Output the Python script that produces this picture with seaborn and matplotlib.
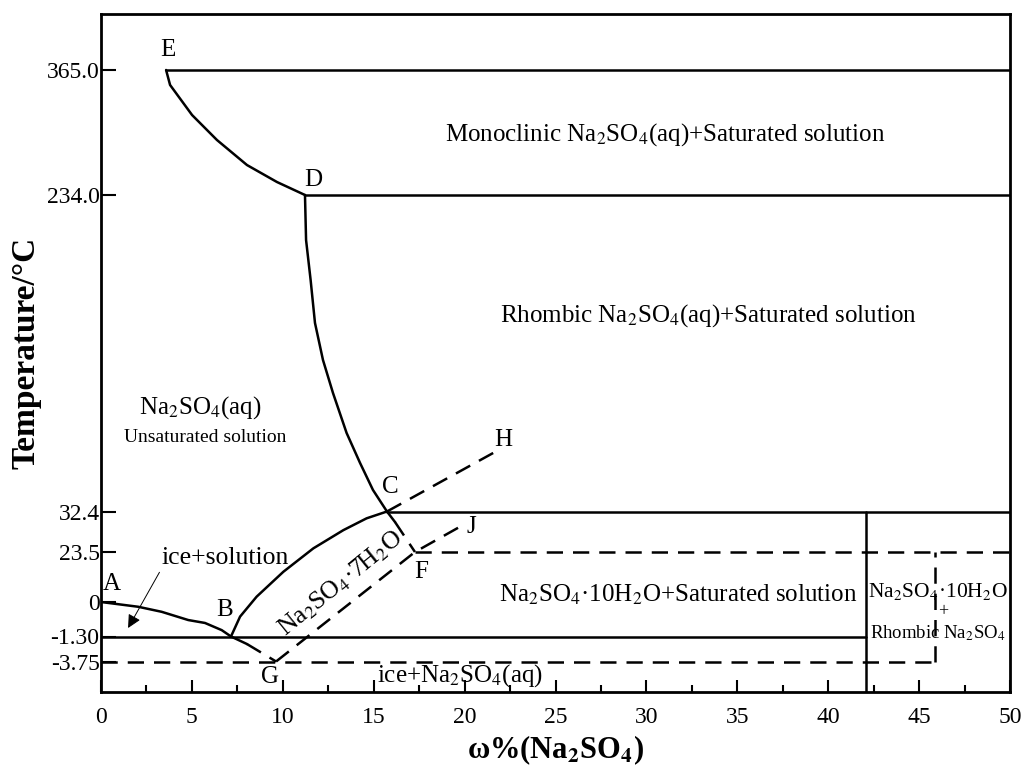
import numpy as np
import matplotlib
matplotlib.use('Agg')
import matplotlib.pyplot as plt
import seaborn as sns
from matplotlib.ticker import MultipleLocator, FixedLocator, NullLocator

# Na2SO4-H2O phase diagram (w% Na2SO4, T in C)
ed_x = [3.58, 3.80, 5.01, 6.38, 8.03, 9.68, 11.22]
ed_t = [365.0, 349.3, 317.8, 291.6, 265.4, 247.6, 234.0]

dc_x = [11.22, 11.28, 11.53, 11.77, 12.21, 12.76, 13.51, 14.25, 14.96, 15.73, 16.17]
dc_t = [234.0, 205.3, 179.9, 152.5, 128.9, 107.9, 82.4, 63.3, 46.1, 32.4, 30.1]

ab_x = [0.0, 2.05, 3.34, 4.80, 5.72, 6.64, 7.15, 8.03]
ab_t = [0.0, -0.18, -0.37, -0.68, -0.79, -1.06, -1.30, -2.04]

bc_x = [7.15, 7.65, 8.56, 10.03, 11.68, 13.33, 14.61, 15.73]
bc_t = [-1.30, -0.55, 2.5, 14.2, 24.3, 28.3, 30.9, 32.4]

# metastable (dashed) branches
bg_x = [8.03, 9.63]
bg_t = [-2.04, -3.75]
gfj_x = [9.63, 17.27, 19.9]
gfj_t = [-3.75, 23.5, 29.4]
cf_x = [16.17, 17.27]
cf_t = [30.1, 23.5]
ch_x = [15.73, 21.67]
ch_t = [32.4, 70.3]

# horizontal / vertical boundaries
solid_h = [(3.58, 50, 365.0), (11.22, 50, 234.0), (15.73, 50, 32.4), (0, 42.1, -1.30)]
dashed_h = [(17.27, 50, 23.5), (0, 45.9, -3.75)]
solid_v = [(42.1, -6.79, 32.4)]
dashed_v = [(45.9, -3.75, 23.5)]

y_ticks = [-3.75, -1.30, 0, 23.5, 32.4, 234.0, 365.0]
y_ticklabels = ['-3.75', '-1.30', '0', '23.5', '32.4', '234.0', '365.0']

# broken (piecewise) temperature axis
t_knots = np.array([-6.79, -3.75, -1.30, 0.0, 23.5, 32.4, 234.0, 365.0, 424.2])
p_knots = np.array([0.0, 30.5, 55.5, 90.0, 140.0, 180.5, 497.0, 622.0, 678.5])


def _interp(v, xs, ys):
    v = np.asarray(v, dtype=float)
    out = np.interp(v, xs, ys)
    lo = v < xs[0]
    hi = v > xs[-1]
    s0 = (ys[1] - ys[0]) / (xs[1] - xs[0])
    s1 = (ys[-1] - ys[-2]) / (xs[-1] - xs[-2])
    out = np.where(lo, ys[0] + (v - xs[0]) * s0, out)
    out = np.where(hi, ys[-1] + (v - xs[-1]) * s1, out)
    return out


def fwd(t):
    return _interp(t, t_knots, p_knots)


def inv(p):
    return _interp(p, p_knots, t_knots)


sns.set_style('ticks')
plt.rcParams['font.family'] = ['Liberation Serif', 'DejaVu Serif']
plt.rcParams['mathtext.fontset'] = 'stix'
for key in ['axes.edgecolor', 'text.color', 'axes.labelcolor',
            'xtick.color', 'ytick.color']:
    plt.rcParams[key] = 'black'

fig = plt.figure(figsize=(10.24, 7.72), dpi=100)
ax = fig.add_axes([101 / 1024, 1 - 692 / 772, 909 / 1024, 678.5 / 772])
ax.set_yscale('function', functions=(fwd, inv))

LW = 1.8
DASH = (0, (6.5, 4))


def curve(xs, ts, ls='-'):
    sns.lineplot(x=xs, y=ts, sort=False, estimator=None, color='black',
                 linewidth=LW, linestyle=ls, ax=ax)


curve(ed_x, ed_t)
curve(dc_x, dc_t)
curve(ab_x, ab_t)
curve(bc_x, bc_t)
curve(bg_x, bg_t, DASH)
curve(gfj_x, gfj_t, DASH)
curve(cf_x, cf_t, DASH)
curve(ch_x, ch_t, DASH)

for x0, x1, t in solid_h:
    curve([x0, x1], [t, t])
for x0, x1, t in dashed_h:
    curve([x0, x1], [t, t], DASH)
for x, t0, t1 in solid_v:
    curve([x, x], [t0, t1])
for x, t0, t1 in dashed_v:
    curve([x, x], [t0, t1], DASH)

ax.set_xlim(0, 50)
ax.set_ylim(-6.79, 424.2)

ax.xaxis.set_major_locator(MultipleLocator(5))
ax.xaxis.set_minor_locator(MultipleLocator(2.5))
ax.yaxis.set_major_locator(FixedLocator(y_ticks))
ax.yaxis.set_minor_locator(NullLocator())
ax.set_yticklabels(y_ticklabels)

ax.tick_params(axis='x', which='major', direction='in', length=9, width=1.5,
               labelsize=17, pad=11)
ax.tick_params(axis='x', which='minor', direction='in', length=5, width=1.5)
ax.tick_params(axis='y', which='major', direction='in', length=11, width=1.5,
               labelsize=17, pad=1)
for sp in ax.spines.values():
    sp.set_linewidth(2.0)
    sp.set_color('black')
    sp.set_visible(True)

ax.set_xlabel('ω%(Na$_{\\mathbf{2}}$SO$_{\\mathbf{4}}$)', fontsize=22,
              fontweight='bold', labelpad=4)
ax.set_ylabel('Temperature/°C', fontsize=24, fontweight='bold', labelpad=4)

T = ax.transAxes


def lab(xf, yf, s, size=18, **kw):
    ax.text(xf, yf, s, transform=T, fontsize=size, ha='center', va='center', **kw)


# point labels
lab(0.0737, 0.946, 'E')
lab(0.2332, 0.7546, 'D')
lab(0.3179, 0.3021, 'C')
lab(0.4422, 0.3714, 'H')
lab(0.408, 0.2432, 'J')
lab(0.352, 0.1769, 'F')
lab(0.186, 0.0221, 'G')
lab(0.1364, 0.1209, 'B')
lab(0.0121, 0.1592, 'A')

# region labels
lab(0.6205, 0.821, 'Monoclinic Na$_2$SO$_4$(aq)+Saturated solution')
lab(0.6678, 0.5542, 'Rhombic Na$_2$SO$_4$(aq)+Saturated solution')
lab(0.1089, 0.4186, 'Na$_2$SO$_4$(aq)', size=18)
lab(0.1144, 0.3758, 'Unsaturated solution', size=14)
lab(0.6348, 0.143, 'Na$_2$SO$_4$·10H$_2$O+Saturated solution')
lab(0.264, 0.1606, 'Na$_2$SO$_4$·7H$_2$O', size=18.5, rotation=39,
    rotation_mode='anchor')
lab(0.395, 0.0236, 'ice+Na$_2$SO$_4$(aq)')
lab(0.9208, 0.1484, 'Na$_2$SO$_4$·10H$_2$O', size=15.5)
lab(0.927, 0.119, '+', size=13)
lab(0.9208, 0.0874, 'Rhombic Na$_2$SO$_4$', size=13.5)

ax.annotate('ice+solution', xy=(1.49, -0.98), xycoords='data',
            xytext=(0.1364, 0.1975), textcoords='axes fraction',
            fontsize=18.5, ha='center', va='center',
            arrowprops=dict(arrowstyle='-|>', color='black', lw=0.7,
                            mutation_scale=20, relpos=(0.0, 0.0),
                            shrinkA=0, shrinkB=0))

plt.savefig('out.png', dpi=100)
plt.close()
